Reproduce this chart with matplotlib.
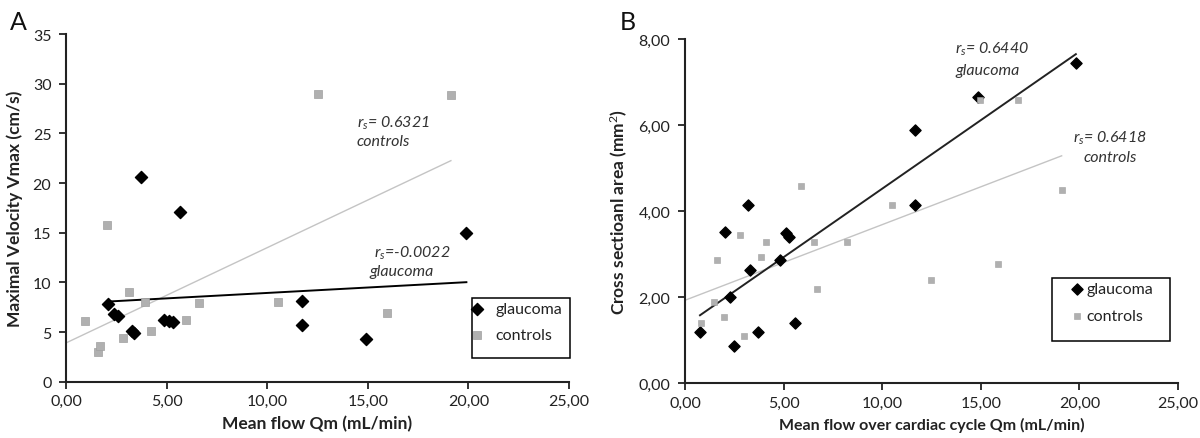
import numpy as np
import matplotlib
matplotlib.use("Agg")
import matplotlib.pyplot as plt
from matplotlib.patches import Rectangle

plt.rcParams['font.family'] = ['Lato', 'DejaVu Sans']
plt.rcParams['mathtext.fontset'] = 'custom'
plt.rcParams['mathtext.it'] = 'Lato:italic'
plt.rcParams['mathtext.rm'] = 'Lato'

# ---- panel A: maximal velocity vs mean flow
a_glau_x = [2.09, 2.37, 2.56, 3.29, 3.40, 3.75, 4.88, 5.12, 5.32, 5.66, 11.74, 11.74, 14.91, 19.90]
a_glau_y = [7.82, 6.82, 6.58, 5.14, 4.90, 20.6, 6.25, 6.15, 5.98, 17.06, 8.10, 5.71, 4.30, 14.94]
a_ctrl_x = [0.92, 1.59, 1.69, 2.06, 2.83, 3.12, 3.94, 4.21, 5.95, 6.60, 10.53, 12.52, 15.94, 19.13]
a_ctrl_y = [6.08, 2.96, 3.63, 15.81, 4.37, 9.06, 7.99, 5.14, 6.25, 7.89, 7.99, 29.0, 6.88, 28.87]

# ---- panel B: cross sectional area vs mean flow
b_glau_x = [0.76, 2.03, 2.29, 2.48, 3.21, 3.30, 3.70, 4.81, 5.10, 5.26, 5.59, 11.67, 11.67, 14.84, 19.82]
b_glau_y = [1.19, 3.51, 1.99, 0.87, 4.14, 2.62, 1.19, 2.85, 3.49, 3.39, 1.39, 5.89, 4.14, 6.64, 7.45]
b_ctrl_x = [0.82, 1.45, 1.60, 1.96, 2.78, 3.01, 3.87, 4.11, 5.90, 6.53, 6.67, 8.21, 10.48, 12.49, 14.98, 15.87, 16.89, 19.10]
b_ctrl_y = [1.39, 1.89, 2.85, 1.54, 3.45, 1.10, 2.93, 3.27, 4.58, 3.28, 2.19, 3.28, 4.14, 2.40, 6.57, 2.77, 6.57, 4.48]

xticks = [0, 5, 10, 15, 20, 25]

W, H = 1200, 439
def fx(x):
    return x / W
def fy(y):
    return 1 - y / H

def comma(v, nd=2):
    return ('%.*f' % (nd, v)).replace('.', ',')

def style_axes(ax):
    for s in ['top', 'right']:
        ax.spines[s].set_visible(False)
    for s in ['left', 'bottom']:
        ax.spines[s].set_linewidth(1.5)
        ax.spines[s].set_color('#222222')
    ax.tick_params(direction='out', length=5, width=1.3, labelsize=11.5, colors='#222222')
    ax.tick_params(axis='y', pad=5.5)
    ax.tick_params(axis='x', pad=4)
    ax.set_xticks(xticks)
    ax.set_xticklabels([comma(v) for v in xticks])
    ax.set_xlim(0, 25)

def trend(ax, x, y, x0, x1, color, lw):
    k, b = np.polyfit(x, y, 1)
    xs = np.array([x0, x1])
    ax.plot(xs, k * xs + b, color=color, lw=lw, zorder=1)

def boxed_legend(fig, ax, left, top, right, bottom, anchor_x, anchor_y, tpad, lspace):
    leg = ax.legend(loc='upper left', bbox_to_anchor=(fx(anchor_x), fy(anchor_y)),
                    bbox_transform=fig.transFigure, frameon=False, fontsize=11.5,
                    borderpad=0, borderaxespad=0, handlelength=0.6,
                    handletextpad=tpad, labelspacing=lspace)
    for t in leg.get_texts():
        t.set_color('#222222')
    fig.add_artist(Rectangle((fx(left), fy(bottom)), fx(right) - fx(left), fy(top) - fy(bottom),
                             transform=fig.transFigure, fill=False, edgecolor='black', lw=1.1))

fig = plt.figure(figsize=(12, 4.39), dpi=100)
axA = fig.add_axes([fx(66), fy(382.7), fx(569) - fx(66), fy(35) - fy(382.7)])
axB = fig.add_axes([fx(685), fy(384), fx(1178) - fx(685), fy(40) - fy(384)])

ctrl_col = '#b0b0b0'
note_col = '#333333'

# panel A
style_axes(axA)
trend(axA, a_ctrl_x, a_ctrl_y, 0, max(a_ctrl_x), '#c4c4c4', 1.0)
trend(axA, a_glau_x, a_glau_y, min(a_glau_x), max(a_glau_x), 'black', 1.4)
axA.scatter(a_glau_x, a_glau_y, marker='D', s=38, color='black', label='glaucoma', zorder=3)
axA.scatter(a_ctrl_x, a_ctrl_y, marker='s', s=26, color=ctrl_col, edgecolor='#a0a0a0', lw=0.5, label='controls', zorder=3)
axA.set_ylim(0, 35)
axA.set_yticks(range(0, 36, 5))
axA.set_xlabel('Mean flow Qm (mL/min)', fontsize=12.5, fontweight='bold', color='#222222', labelpad=5)
axA.set_ylabel('Maximal Velocity Vmax (cm/s)', fontsize=12.5, fontweight='bold', color='#222222', labelpad=7)
axA.text(14.44, 26.1, '$r_s$= 0.6321', fontsize=11.5, style='italic', color=note_col, va='center')
axA.text(14.44, 24.2, 'controls', fontsize=11.5, style='italic', color=note_col, va='center')
axA.text(15.3, 13.0, '$r_s$=-0.0022', fontsize=11.5, style='italic', color=note_col, va='center')
axA.text(15.1, 11.1, 'glaucoma', fontsize=11.5, style='italic', color=note_col, va='center')
boxed_legend(fig, axA, 472, 299, 570, 359, 472.2, 303, 0.85, 0.75)
fig.text(fx(18), fy(23), 'A', fontsize=18, color='#111111', ha='center', va='center')

# panel B
style_axes(axB)
trend(axB, b_ctrl_x, b_ctrl_y, 0, max(b_ctrl_x), '#c4c4c4', 1.0)
trend(axB, b_glau_x, b_glau_y, min(b_glau_x), max(b_glau_x), '#222222', 1.4)
axB.scatter(b_glau_x, b_glau_y, marker='D', s=32, color='black', label='glaucoma', zorder=3)
axB.scatter(b_ctrl_x, b_ctrl_y, marker='s', s=20, color=ctrl_col, edgecolor='#a0a0a0', lw=0.4, label='controls', zorder=3)
axB.set_ylim(0, 8)
axB.set_yticks([0, 2, 4, 6, 8])
axB.set_yticklabels([comma(v) for v in [0, 2, 4, 6, 8]])
axB.set_xlabel('Mean flow over cardiac cycle Qm (mL/min)', fontsize=11.5, fontweight='bold', color='#222222', labelpad=5)
axB.set_ylabel('Cross sectioanl area (mm$^2$)', fontsize=12.5, fontweight='bold', color='#222222', labelpad=7)
axB.text(13.69, 7.78, '$r_s$= 0.6440', fontsize=11.5, style='italic', color=note_col, va='center')
axB.text(13.74, 7.29, 'glaucoma', fontsize=11.5, style='italic', color=note_col, va='center')
axB.text(19.69, 5.71, '$r_s$= 0.6418', fontsize=11.5, style='italic', color=note_col, va='center')
axB.text(20.23, 5.25, 'controls', fontsize=11.5, style='italic', color=note_col, va='center')
boxed_legend(fig, axB, 1052, 279, 1170, 342, 1072.2, 283, 0.3, 0.8)
fig.text(fx(628), fy(23), 'B', fontsize=18, color='#111111', ha='center', va='center')

fig.savefig('out.png', dpi=100)
